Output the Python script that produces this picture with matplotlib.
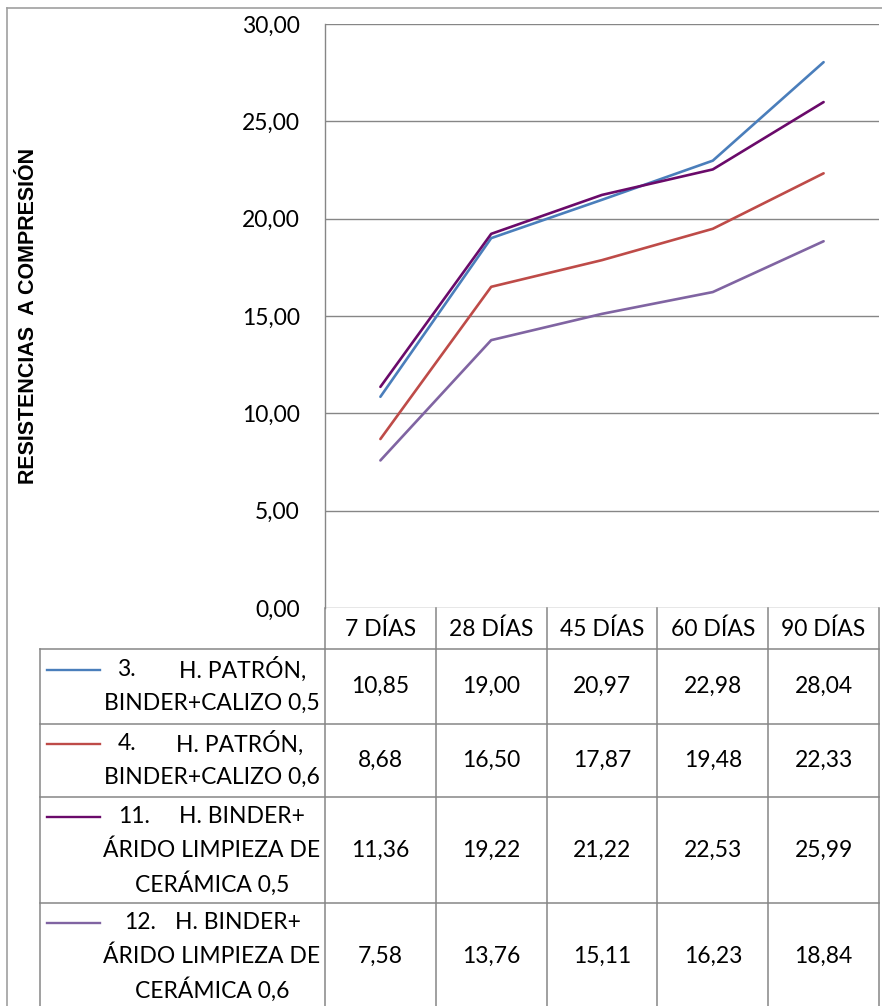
import matplotlib
matplotlib.use('Agg')
import matplotlib.pyplot as plt

# ---------------- data ----------------
categories = ['7 DÍAS', '28 DÍAS', '45 DÍAS', '60 DÍAS', '90 DÍAS']
series_numbers = ['3.', '4.', '11.', '12.']
series_labels = [
    ['H. PATRÓN,', 'BINDER+CALIZO 0,5'],
    ['H. PATRÓN,', 'BINDER+CALIZO 0,6'],
    ['H. BINDER+', 'ÁRIDO LIMPIEZA DE', 'CERÁMICA 0,5'],
    ['H. BINDER+', 'ÁRIDO LIMPIEZA DE', 'CERÁMICA 0,6'],
]
s3 = [10.85, 19.00, 20.97, 22.98, 28.04]
s4 = [8.68, 16.50, 17.87, 19.48, 22.33]
s11 = [11.36, 19.22, 21.22, 22.53, 25.99]
s12 = [7.58, 13.76, 15.11, 16.23, 18.84]
series_values = [s3, s4, s11, s12]
y_ticks = [0, 5, 10, 15, 20, 25, 30]
y_label = 'RESISTENCIAS  A COMPRESIÓN'

# ---------------- style ----------------
colors = ['#4A7EBB', '#BE4B48', '#6A0A6A', '#8064A2']
grid_c = '#868686'
FONT = 'Lato'
FS = 16.5
W, H = 882, 1006
num_x = [117, 118, 118, 124]     # left edge of list number (px)
first_x = [179, 176, 179, 175]   # left edge of first-line text (px)

def fmt(v):
    return f'{v:.2f}'.replace('.', ',')

fig = plt.figure(figsize=(W / 100, H / 100), dpi=100)

# overlay in pixel coordinates (table, borders)
lay = fig.add_axes([0, 0, 1, 1], zorder=0)
lay.set_xlim(0, W)
lay.set_ylim(H, 0)
lay.axis('off')

# plot area
px_l, px_r, py_t, py_b = 325, 879, 24, 608
ax = fig.add_axes([px_l / W, 1 - py_b / H, (px_r - px_l) / W, (py_b - py_t) / H], zorder=1)
ax.patch.set_alpha(0)
n = len(categories)
ax.set_xlim(-0.5, n - 0.5)
ax.set_ylim(0, 30)
ax.set_yticks(y_ticks)
ax.set_xticks([])
ax.tick_params(axis='y', length=0, pad=18, labelsize=FS)
ax.set_yticklabels([fmt(t) for t in y_ticks], fontfamily=FONT)
for t in y_ticks:
    ax.axhline(t, color=grid_c, lw=1.0, zorder=0)
for s in ['top', 'right', 'bottom']:
    ax.spines[s].set_visible(False)
ax.spines['left'].set_color(grid_c)
ax.spines['left'].set_linewidth(1.0)

xs = list(range(n))
for vals, c in zip(series_values, colors):
    ax.plot(xs, vals, color=c, lw=1.9, solid_capstyle='round', zorder=3)

# y label
lay.text(29, 316, y_label, rotation=90, ha='center', va='center',
         fontsize=15.5, fontweight='bold', fontfamily='Liberation Sans')

# chart outer border (partially visible)
lay.plot([7, W], [8, 8], color='#A0A0A0', lw=1.2)
lay.plot([7, 7], [8, H], color='#A0A0A0', lw=1.2)

# ---------------- data table ----------------
tbl_l = 40
col_w = (px_r - px_l) / n
col_x = [px_l + i * col_w for i in range(n + 1)]
hdr_b = 649
row_edges = [hdr_b, 724, 797, 903, 1010]
tl = dict(color=grid_c, lw=1.1)

for y in row_edges[:-1]:
    lay.plot([tbl_l, px_r], [y, y], **tl)
lay.plot([tbl_l, tbl_l], [hdr_b, H], **tl)
lay.plot([px_l, px_l], [py_b, H], **tl)
for x in col_x[1:]:
    lay.plot([x, x], [py_b, H], **tl)

# header
for i, cat in enumerate(categories):
    cx = (col_x[i] + col_x[i + 1]) / 2
    lay.text(cx, (py_b + hdr_b) / 2 + 1, cat, ha='center', va='center',
             fontsize=FS, fontfamily=FONT)

line_h = 33.5
label_cx = 212
for r, (num, lines, vals, c) in enumerate(zip(series_numbers, series_labels,
                                             series_values, colors)):
    y0, y1 = row_edges[r], row_edges[r + 1]
    if r == len(series_labels) - 1:
        y1 = 1009
    cy = (y0 + y1) / 2
    k = len(lines)
    first = cy - (k - 1) / 2 * line_h
    lay.text(num_x[r], first, num, ha='left', va='center',
             fontsize=FS, fontfamily=FONT)
    lay.text(first_x[r], first, lines[0], ha='left', va='center',
             fontsize=FS, fontfamily=FONT)
    for j, txt in enumerate(lines[1:], start=1):
        lay.text(label_cx, first + j * line_h, txt, ha='center', va='center',
                 fontsize=FS, fontfamily=FONT)
    lay.plot([47, 100], [first, first], color=c, lw=1.7)
    for i, v in enumerate(vals):
        cx = (col_x[i] + col_x[i + 1]) / 2
        lay.text(cx, cy, fmt(v), ha='center', va='center',
                 fontsize=FS, fontfamily=FONT)

fig.savefig('out.png', dpi=100)
